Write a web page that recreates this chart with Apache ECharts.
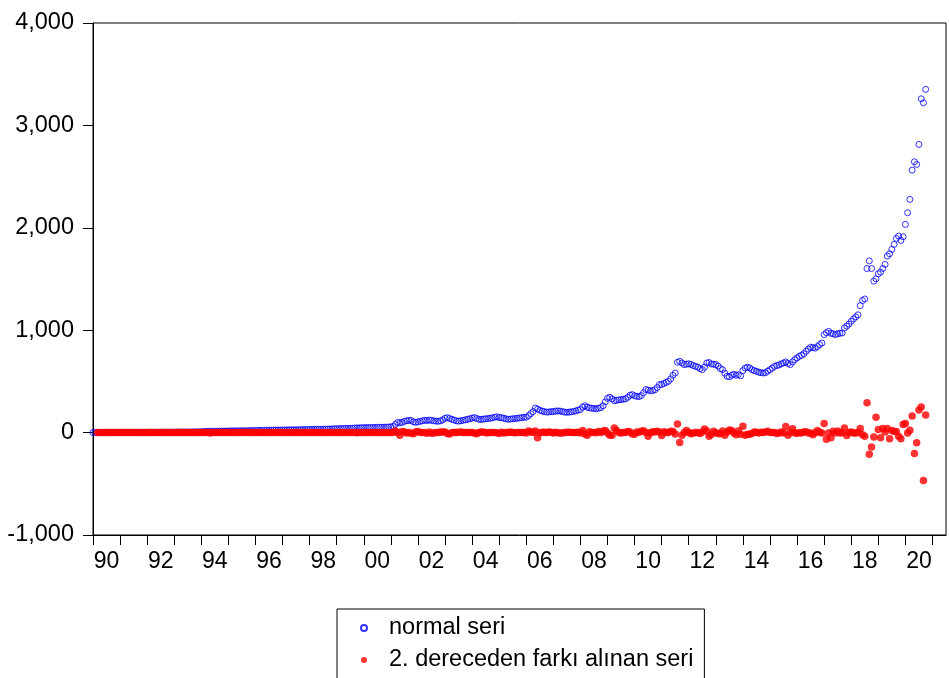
<!DOCTYPE html>
<html>
<head>
<meta charset="utf-8">
<script src="https://cdn.jsdelivr.net/npm/echarts@6/dist/echarts.min.js"></script>
<style>
html,body{margin:0;padding:0;background:#fff;}
#chart{width:949px;height:678px;}
</style>
</head>
<body>
<div id="chart"></div>
<script>
// Monthly observations, 1990M01 .. 2020M10
const startYear = 1990;
const axisMonths = 379; // axis extends a little past the last observation

const normalSeri = [
// 1990
1.0,1.1,1.1,1.2,1.2,1.3,1.3,1.4,1.5,1.5,1.6,1.7,
// 1991
1.8,2.0,2.1,2.1,2.2,2.3,2.4,2.5,2.6,2.7,2.8,3.0,
// 1992
3.1,3.2,3.3,3.4,3.5,3.6,3.8,3.9,4.1,4.3,4.5,4.7,
// 1993
4.9,5.1,5.3,5.5,5.6,5.8,6.0,6.3,6.6,6.9,7.3,7.8,
// 1994
8.4,9.6,11.5,13.8,12.6,12.9,13.2,13.5,14.0,14.4,14.9,15.3,
// 1995
15.8,16.2,16.5,16.9,17.2,17.4,17.7,18.0,18.4,18.8,19.3,19.8,
// 1996
20.3,20.8,21.3,21.8,22.3,22.6,22.9,23.3,23.8,24.2,24.6,25.0,
// 1997
25.4,25.8,26.2,26.5,26.7,26.9,27.3,27.8,28.3,28.9,29.4,29.9,
// 1998
30.4,30.9,31.3,31.7,32.0,32.4,32.9,33.4,34.2,35.1,35.9,36.7,
// 1999
37.5,38.3,39.2,40.0,40.6,41.2,41.9,42.8,44.2,45.6,46.5,47.3,
// 2000
48.0,48.5,49.0,49.4,49.8,50.3,50.9,51.6,52.2,52.8,53.6,54.4,
// 2001
56,60,80,100,95,100,110,115,120,118,105,100,
// 2002
105,110,115,120,118,122,120,115,112,110,115,125,
// 2003
140,146,138,130,122,115,112,115,120,125,130,135,
// 2004
142,146,138,130,128,132,135,137,140,145,150,154,
// 2005
148,146,140,135,130,132,135,137,140,143,146,150,
// 2006
150,165,185,205,240,230,218,210,205,200,201,205,
// 2007
206,210,212,210,205,200,198,200,203,207,212,220,
// 2008
225,250,262,248,242,238,236,232,238,244,262,300,
// 2009
335,345,330,312,315,320,322,326,330,345,365,371,
// 2010
360,354,352,362,390,420,415,408,410,418,440,469,
// 2011
470,480,490,501,525,560,582,687,696,680,664,668,
// 2012
672,665,655,647,640,625,615,640,680,684,670,668,
// 2013
664,650,625,615,580,550,545,560,570,560,566,555,
// 2014
605,630,638,631,615,605,599,590,585,582,585,600,
// 2015
615,630,647,655,660,672,680,690,675,664,690,713,
// 2016
730,745,755,770,794,815,833,830,825,840,859,875,
// 2017
957,975,989,970,965,957,965,970,973,1021,1040,1060,
// 2018
1087,1110,1130,1150,1240,1290,1305,1602,1677,1602,1479,1502,
// 2019
1551,1567,1603,1642,1724,1746,1789,1838,1896,1919,1877,1912,
// 2020
2033,2147,2277,2563,2645,2619,2814,3260,3221,3352
];

const farkSeri = [
// 1990
'-','-',0,0.1,-0.1,0.1,0,0.1,0,-0.1,0.1,0,
// 1991
0.1,0,-0.1,0.1,0,0.1,-0.1,0,0.1,0.1,0,-0.1,
// 1992
0.1,0,0.1,-0.1,0.1,0,0.1,0,0.1,0.1,-0.1,0.1,
// 1993
0,0.1,0,-0.1,0.2,0.1,0,0.2,0.1,0,0.3,0.2,
// 1994
0.4,0.6,0.7,0.4,-3.5,1.5,0,0.1,0.2,-0.1,0.1,0,
// 1995
0.1,-0.1,0,0.1,-0.1,0.1,0,0.1,0.1,0,0.1,0,
// 1996
0,0,0,0,-0.1,-0.2,0.1,0.1,0.1,-0.1,0,0,
// 1997
0,0,-0.1,-0.1,-0.1,0.2,0.1,0,0.1,-0.1,0,0,
// 1998
0,0,-0.1,-0.1,0.1,0.1,0,0.3,0.1,-0.1,0,0,
// 1999
0,0.1,-0.1,-0.2,0,0.1,0.2,0.5,0,-0.5,-0.1,0,
// 2000
-0.1,0,-0.1,0,0.1,0.1,0.1,-0.1,0,0.2,0,0.8,
// 2001
1,2,16,0,-25,10,5,-5,0,-7,-11,8,
// 2002
10,0,0,0,-7,6,-6,-3,2,1,7,5,
// 2003
5,-9,-14,0,0,1,4,6,2,0,0,0,
// 2004
2,-3,-12,0,6,6,-1,-1,1,2,0,-1,
// 2005
-10,4,-4,1,0,7,1,-1,1,0,0,1,
// 2006
-4,15,5,0,15,-50,-2,4,3,0,6,3,
// 2007
-3,3,-2,-4,-3,0,3,4,1,1,1,3,
// 2008
-3,20,-13,-26,8,2,2,-2,10,0,12,20,
// 2009
-3,-25,-25,45,21,2,-3,2,0,11,5,-14,
// 2010
-17,5,4,12,18,2,-35,-2,9,6,14,7,
// 2011
-28,9,0,1,13,11,-13,83,-96,-25,0,20,
// 2012
0,-11,-3,2,1,-8,5,35,15,-36,-18,12,
// 2013
-2,-10,-11,15,-25,5,25,20,-5,-20,16,-17,
// 2014
61,-25,-17,-15,-9,6,4,-3,4,2,6,12,
// 2015
0,0,2,-9,-3,7,-4,60,-25,4,37,-3,
// 2016
-6,-2,-5,5,9,-3,-3,-21,-2,20,4,-3,
// 2017
88,-64,-4,-50,14,-3,16,-3,-2,45,-29,1,
// 2018
7,-4,-3,0,40,-20,-35,291,-211,-140,-44,151,
// 2019
30,-50,40,5,40,-60,20,10,10,-35,-60,78,
// 2020
90,-5,24,161,-203,-100,220,249,-467,171
];

const yTicks = { min: -1000, max: 4000, step: 1000 };
const seriesNames = ['normal seri', '2. dereceden farkı alınan seri'];

const months = [];
for (let i = 0; i < axisMonths; i++) {
  const y = startYear + Math.floor(i / 12);
  const m = (i % 12) + 1;
  months.push(y + 'M' + (m < 10 ? '0' + m : m));
}

const FONT = '"Liberation Sans", Arial, sans-serif';
const chart = echarts.init(document.getElementById('chart'), null, { renderer: 'canvas' });

chart.setOption({
  backgroundColor: '#ffffff',
  animation: false,
  grid: {
    left: 93, right: 3, top: 23, bottom: 143,
    show: true, borderColor: '#000', borderWidth: 1, backgroundColor: 'transparent'
  },
  xAxis: {
    type: 'category',
    data: months,
    boundaryGap: false,
    axisLine: { onZero: false, lineStyle: { color: '#000', width: 1 } },
    axisTick: {
      show: true, inside: false, length: 10,
      interval: function (idx) { return idx % 12 === 0; },
      lineStyle: { color: '#000' }
    },
    axisLabel: {
      interval: function (idx) { return idx % 24 === 6; },
      formatter: function (v) { return v.slice(2, 4); },
      color: '#000', fontSize: 23, fontFamily: FONT, margin: 15
    },
    splitLine: { show: false }
  },
  yAxis: {
    type: 'value',
    min: yTicks.min, max: yTicks.max, interval: yTicks.step,
    axisLine: { show: true, lineStyle: { color: '#000', width: 1 } },
    axisTick: { show: true, inside: false, length: 10, lineStyle: { color: '#000' } },
    axisLabel: {
      color: '#000', fontSize: 23.5, fontFamily: FONT, margin: 19,
      formatter: function (v) {
        const s = Math.abs(v).toString().replace(/\B(?=(\d{3})+(?!\d))/g, ',');
        return (v < 0 ? '-' : '') + s;
      }
    },
    splitLine: { show: false }
  },
  legend: {
    orient: 'vertical',
    left: 337, top: 609, height: 120,
    padding: [7, 11, 24, 23],
    itemGap: 8,
    itemWidth: 40, itemHeight: 6,
    borderColor: '#000', borderWidth: 1, backgroundColor: '#fff',
    textStyle: { color: '#000', fontSize: 23.5, fontFamily: FONT, lineHeight: 22 },
    data: seriesNames
  },
  series: [
    {
      name: seriesNames[0],
      type: 'scatter',
      data: normalSeri,
      symbol: 'circle',
      symbolSize: 6,
      itemStyle: { color: 'rgba(0,0,0,0)', borderColor: '#0000ff', borderWidth: 1 }
    },
    {
      name: seriesNames[1],
      type: 'scatter',
      data: farkSeri,
      symbol: 'circle',
      symbolSize: 7.5,
      itemStyle: { color: '#ff0000' }
    }
  ]
});
</script>
</body>
</html>
